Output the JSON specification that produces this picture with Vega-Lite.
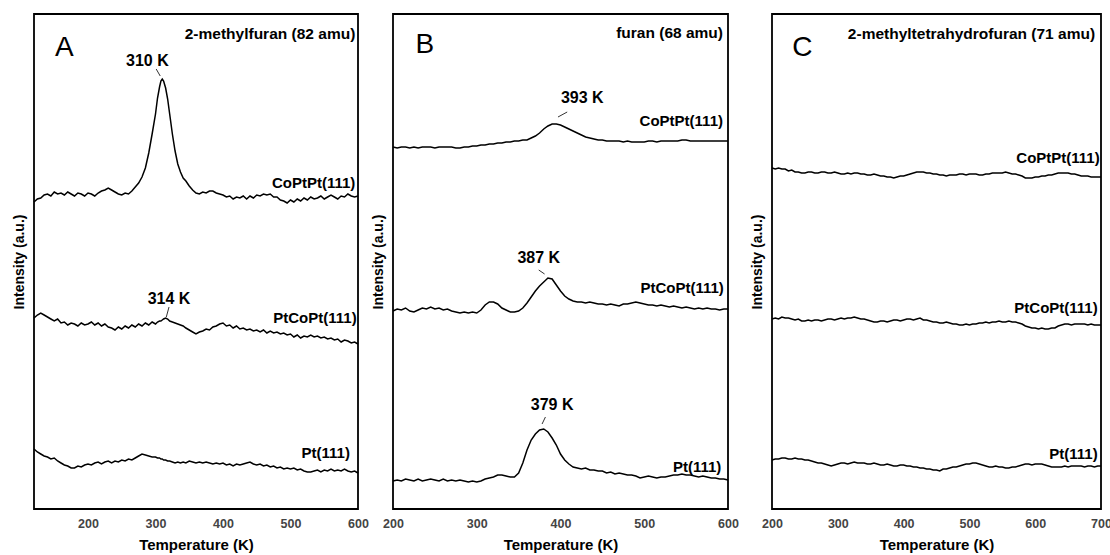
{
"$schema": "https://vega.github.io/schema/vega-lite/v6.json",
"background": "white",
"padding": {"left": 11, "top": 13, "right": 5, "bottom": 0},
"config": {
 "font": "Liberation Sans",
 "view": {"stroke": "black", "strokeWidth": 1.8},
 "axis": {"grid": false, "ticks": false, "domain": false, "labelFontWeight": "bold", "labelFontSize": 12.5, "labelColor": "#444", "titleFontWeight": "bold", "titleFontSize": 15, "titleColor": "black", "labelFont": "Liberation Sans", "titleFont": "Liberation Sans"},
 "axisY": {"labels": false, "titlePadding": 8, "titleFontSize": 14},
 "axisX": {"labelPadding": 8, "titlePadding": 8, "labelFlush": false}
},
"datasets": {
 "A": [
{"T":120,"a":307,"b":191,"c":60},{"T":125,"a":310,"b":194,"c":57},{"T":130,"a":311,"b":196,"c":55},{"T":135,"a":314,"b":194,"c":53},{"T":140,"a":315,"b":192,"c":52},{"T":145,"a":313,"b":190,"c":50},{"T":150,"a":317,"b":188,"c":51},{"T":155,"a":315,"b":190,"c":48},{"T":160,"a":316,"b":186,"c":46},{"T":165,"a":314,"b":187,"c":44},{"T":170,"a":317,"b":184,"c":43},{"T":175,"a":315,"b":186,"c":41},{"T":180,"a":313,"b":185,"c":41},{"T":185,"a":316,"b":183,"c":43},{"T":190,"a":315,"b":186,"c":42},{"T":195,"a":313,"b":184,"c":44},{"T":200,"a":316,"b":185,"c":45},{"T":205,"a":315,"b":187,"c":44},{"T":210,"a":313,"b":184,"c":46},{"T":215,"a":316,"b":186,"c":47},{"T":220,"a":318,"b":183,"c":45},{"T":225,"a":319,"b":185,"c":47},{"T":230,"a":321,"b":182,"c":48},{"T":235,"a":319,"b":181,"c":46},{"T":240,"a":317,"b":179,"c":48},{"T":245,"a":315,"b":182,"c":47},{"T":250,"a":314,"b":180,"c":49},{"T":255,"a":316,"b":183,"c":48},{"T":260,"a":315,"b":181,"c":50},{"T":265,"a":318,"b":184,"c":49},{"T":270,"a":322,"b":182,"c":51},{"T":275,"a":326,"b":185,"c":53},{"T":280,"a":332,"b":183,"c":55},{"T":285,"a":341,"b":186,"c":54},{"T":290,"a":356,"b":184,"c":53},{"T":295,"a":375,"b":187,"c":52},{"T":300,"a":395,"b":185,"c":52},{"T":303,"a":411,"b":187,"c":51},{"T":306,"a":422,"b":188,"c":51},{"T":308,"a":428,"b":188,"c":50},{"T":310,"a":430,"b":189,"c":50},{"T":312,"a":428,"b":190,"c":49},{"T":315,"a":421,"b":191,"c":49},{"T":318,"a":410,"b":190,"c":48},{"T":321,"a":395,"b":188,"c":48},{"T":325,"a":375,"b":187,"c":47},{"T":329,"a":358,"b":186,"c":46},{"T":333,"a":345,"b":185,"c":47},{"T":337,"a":337,"b":184,"c":46},{"T":341,"a":331,"b":183,"c":47},{"T":345,"a":328,"b":181,"c":46},{"T":350,"a":323,"b":179,"c":48},{"T":355,"a":319,"b":177,"c":47},{"T":360,"a":316,"b":175,"c":46},{"T":365,"a":315,"b":177,"c":47},{"T":370,"a":317,"b":178,"c":46},{"T":375,"a":316,"b":180,"c":47},{"T":380,"a":318,"b":179,"c":46},{"T":385,"a":318,"b":182,"c":45},{"T":390,"a":316,"b":183,"c":46},{"T":395,"a":315,"b":185,"c":45},{"T":400,"a":314,"b":186,"c":46},{"T":405,"a":312,"b":183,"c":44},{"T":410,"a":313,"b":184,"c":45},{"T":415,"a":310,"b":181,"c":43},{"T":420,"a":312,"b":183,"c":45},{"T":425,"a":311,"b":180,"c":44},{"T":430,"a":313,"b":181,"c":45},{"T":435,"a":310,"b":179,"c":46},{"T":440,"a":313,"b":180,"c":47},{"T":445,"a":311,"b":178,"c":45},{"T":450,"a":314,"b":179,"c":44},{"T":455,"a":313,"b":177,"c":45},{"T":460,"a":315,"b":179,"c":43},{"T":465,"a":314,"b":176,"c":44},{"T":470,"a":315,"b":178,"c":42},{"T":475,"a":312,"b":176,"c":43},{"T":480,"a":312,"b":177,"c":41},{"T":485,"a":309,"b":175,"c":42},{"T":490,"a":308,"b":176,"c":40},{"T":495,"a":306,"b":174,"c":41},{"T":500,"a":309,"b":175,"c":40},{"T":505,"a":307,"b":172,"c":41},{"T":510,"a":310,"b":174,"c":39},{"T":515,"a":308,"b":171,"c":40},{"T":520,"a":311,"b":173,"c":38},{"T":525,"a":309,"b":172,"c":37},{"T":530,"a":312,"b":174,"c":37},{"T":535,"a":310,"b":172,"c":38},{"T":540,"a":311,"b":173,"c":39},{"T":545,"a":313,"b":171,"c":37},{"T":550,"a":310,"b":172,"c":39},{"T":555,"a":312,"b":170,"c":38},{"T":560,"a":314,"b":171,"c":40},{"T":565,"a":312,"b":169,"c":38},{"T":570,"a":310,"b":170,"c":39},{"T":575,"a":313,"b":167,"c":38},{"T":580,"a":312,"b":169,"c":40},{"T":585,"a":315,"b":168,"c":38},{"T":590,"a":313,"b":166,"c":37},{"T":595,"a":312,"b":167,"c":38},{"T":600,"a":313,"b":165,"c":36}
 ],
 "B": [
{"T":200,"a":362,"b":198,"c":28},{"T":205,"a":361,"b":200,"c":29},{"T":210,"a":362,"b":199,"c":28},{"T":215,"a":362,"b":201,"c":30},{"T":220,"a":361,"b":198,"c":29},{"T":225,"a":362,"b":197,"c":28},{"T":230,"a":361,"b":199,"c":30},{"T":235,"a":362,"b":201,"c":28},{"T":240,"a":362,"b":200,"c":29},{"T":245,"a":362,"b":202,"c":30},{"T":250,"a":361,"b":200,"c":29},{"T":255,"a":362,"b":201,"c":28},{"T":260,"a":362,"b":199,"c":30},{"T":265,"a":362,"b":200,"c":28},{"T":270,"a":362,"b":198,"c":29},{"T":275,"a":361,"b":197,"c":28},{"T":280,"a":361,"b":196,"c":29},{"T":285,"a":362,"b":197,"c":28},{"T":290,"a":362,"b":196,"c":27},{"T":295,"a":363,"b":197,"c":28},{"T":300,"a":363,"b":196,"c":27},{"T":305,"a":364,"b":199,"c":28},{"T":310,"a":364,"b":204,"c":30},{"T":315,"a":365,"b":207,"c":31},{"T":320,"a":365,"b":207,"c":32},{"T":325,"a":366,"b":205,"c":34},{"T":330,"a":366,"b":201,"c":34},{"T":335,"a":367,"b":199,"c":33},{"T":340,"a":367,"b":197,"c":32},{"T":345,"a":368,"b":197,"c":32},{"T":350,"a":368,"b":198,"c":36},{"T":355,"a":369,"b":201,"c":46},{"T":360,"a":369,"b":206,"c":59},{"T":365,"a":371,"b":212,"c":69},{"T":370,"a":373,"b":218,"c":75},{"T":375,"a":376,"b":223,"c":79},{"T":380,"a":380,"b":227,"c":80},{"T":385,"a":383,"b":231,"c":77},{"T":390,"a":385,"b":230,"c":71},{"T":395,"a":385,"b":224,"c":64},{"T":400,"a":384,"b":218,"c":55},{"T":405,"a":382,"b":213,"c":49},{"T":410,"a":380,"b":210,"c":45},{"T":415,"a":378,"b":208,"c":42},{"T":420,"a":376,"b":207,"c":41},{"T":425,"a":374,"b":207,"c":40},{"T":430,"a":372,"b":206,"c":41},{"T":435,"a":371,"b":207,"c":39},{"T":440,"a":370,"b":206,"c":39},{"T":445,"a":369,"b":205,"c":38},{"T":450,"a":369,"b":205,"c":38},{"T":455,"a":368,"b":204,"c":36},{"T":460,"a":368,"b":205,"c":37},{"T":465,"a":368,"b":204,"c":35},{"T":470,"a":368,"b":203,"c":36},{"T":475,"a":367,"b":205,"c":35},{"T":480,"a":368,"b":205,"c":34},{"T":485,"a":367,"b":206,"c":34},{"T":490,"a":367,"b":207,"c":33},{"T":495,"a":367,"b":206,"c":31},{"T":500,"a":367,"b":205,"c":32},{"T":505,"a":368,"b":204,"c":33},{"T":510,"a":368,"b":204,"c":32},{"T":515,"a":367,"b":203,"c":31},{"T":520,"a":368,"b":204,"c":32},{"T":525,"a":368,"b":203,"c":32},{"T":530,"a":368,"b":202,"c":33},{"T":535,"a":368,"b":203,"c":34},{"T":540,"a":368,"b":202,"c":34},{"T":545,"a":369,"b":201,"c":35},{"T":550,"a":369,"b":202,"c":34},{"T":555,"a":368,"b":201,"c":34},{"T":560,"a":368,"b":200,"c":33},{"T":565,"a":368,"b":201,"c":32},{"T":570,"a":368,"b":200,"c":33},{"T":575,"a":368,"b":201,"c":32},{"T":580,"a":368,"b":200,"c":31},{"T":585,"a":368,"b":200,"c":31},{"T":590,"a":368,"b":199,"c":30},{"T":595,"a":368,"b":200,"c":30},{"T":600,"a":368,"b":200,"c":29}
 ],
 "C": [
{"T":200,"a":341,"b":190,"c":49},{"T":205,"a":340,"b":191,"c":50},{"T":210,"a":341,"b":190,"c":50},{"T":215,"a":340,"b":192,"c":51},{"T":220,"a":340,"b":191,"c":51},{"T":225,"a":338,"b":191,"c":50},{"T":230,"a":339,"b":190,"c":50},{"T":235,"a":337,"b":189,"c":51},{"T":240,"a":337,"b":190,"c":50},{"T":245,"a":336,"b":188,"c":50},{"T":250,"a":336,"b":188,"c":49},{"T":255,"a":337,"b":189,"c":49},{"T":260,"a":337,"b":188,"c":48},{"T":265,"a":336,"b":189,"c":47},{"T":270,"a":336,"b":189,"c":46},{"T":275,"a":337,"b":188,"c":46},{"T":280,"a":337,"b":189,"c":45},{"T":285,"a":336,"b":190,"c":44},{"T":290,"a":336,"b":190,"c":43},{"T":295,"a":337,"b":189,"c":44},{"T":300,"a":336,"b":190,"c":45},{"T":305,"a":335,"b":191,"c":46},{"T":310,"a":335,"b":190,"c":46},{"T":315,"a":336,"b":191,"c":45},{"T":320,"a":335,"b":191,"c":46},{"T":325,"a":336,"b":192,"c":47},{"T":330,"a":336,"b":191,"c":46},{"T":335,"a":335,"b":190,"c":46},{"T":340,"a":335,"b":190,"c":46},{"T":345,"a":334,"b":189,"c":45},{"T":350,"a":334,"b":188,"c":45},{"T":355,"a":335,"b":187,"c":46},{"T":360,"a":334,"b":187,"c":45},{"T":365,"a":333,"b":188,"c":44},{"T":370,"a":333,"b":188,"c":44},{"T":375,"a":332,"b":187,"c":45},{"T":380,"a":332,"b":188,"c":44},{"T":385,"a":331,"b":189,"c":43},{"T":390,"a":332,"b":189,"c":43},{"T":395,"a":333,"b":188,"c":44},{"T":400,"a":333,"b":189,"c":44},{"T":405,"a":334,"b":190,"c":43},{"T":410,"a":335,"b":190,"c":43},{"T":415,"a":336,"b":189,"c":42},{"T":420,"a":337,"b":190,"c":42},{"T":425,"a":337,"b":191,"c":41},{"T":430,"a":337,"b":189,"c":41},{"T":435,"a":336,"b":189,"c":40},{"T":440,"a":336,"b":188,"c":40},{"T":445,"a":335,"b":187,"c":39},{"T":450,"a":335,"b":187,"c":39},{"T":455,"a":334,"b":186,"c":38},{"T":460,"a":334,"b":186,"c":40},{"T":465,"a":333,"b":187,"c":40},{"T":470,"a":334,"b":186,"c":41},{"T":475,"a":334,"b":185,"c":42},{"T":480,"a":334,"b":185,"c":42},{"T":485,"a":335,"b":184,"c":43},{"T":490,"a":335,"b":184,"c":44},{"T":495,"a":334,"b":185,"c":45},{"T":500,"a":335,"b":184,"c":45},{"T":505,"a":335,"b":185,"c":46},{"T":510,"a":335,"b":185,"c":46},{"T":515,"a":334,"b":186,"c":45},{"T":520,"a":334,"b":186,"c":44},{"T":525,"a":335,"b":187,"c":43},{"T":530,"a":335,"b":186,"c":42},{"T":535,"a":336,"b":187,"c":42},{"T":540,"a":336,"b":187,"c":43},{"T":545,"a":336,"b":188,"c":42},{"T":550,"a":336,"b":187,"c":42},{"T":555,"a":337,"b":187,"c":41},{"T":560,"a":336,"b":188,"c":41},{"T":565,"a":335,"b":187,"c":42},{"T":570,"a":335,"b":187,"c":42},{"T":575,"a":334,"b":186,"c":43},{"T":580,"a":333,"b":185,"c":44},{"T":585,"a":331,"b":183,"c":45},{"T":590,"a":331,"b":182,"c":45},{"T":595,"a":331,"b":181,"c":44},{"T":600,"a":332,"b":181,"c":45},{"T":605,"a":332,"b":180,"c":45},{"T":610,"a":333,"b":181,"c":45},{"T":615,"a":333,"b":180,"c":44},{"T":620,"a":334,"b":180,"c":43},{"T":625,"a":334,"b":181,"c":42},{"T":630,"a":335,"b":181,"c":42},{"T":635,"a":336,"b":183,"c":42},{"T":640,"a":336,"b":184,"c":42},{"T":645,"a":336,"b":185,"c":43},{"T":650,"a":336,"b":185,"c":42},{"T":655,"a":335,"b":184,"c":43},{"T":660,"a":335,"b":185,"c":43},{"T":665,"a":334,"b":185,"c":43},{"T":670,"a":333,"b":185,"c":43},{"T":675,"a":333,"b":185,"c":42},{"T":680,"a":333,"b":184,"c":43},{"T":685,"a":332,"b":185,"c":43},{"T":690,"a":332,"b":184,"c":42},{"T":695,"a":332,"b":184,"c":43},{"T":700,"a":332,"b":184,"c":43}
 ],
 "LA": [
  {"k":"series","T":596,"v":326,"t":"CoPtPt(111)"},
  {"k":"series","T":598,"v":191,"t":"PtCoPt(111)"},
  {"k":"series","T":588,"v":56,"t":"Pt(111)"},
  {"k":"title","T":596,"v":475,"t":"2-methylfuran (82 amu)"},
  {"k":"peak","T":288,"v":448,"t":"310 K"},
  {"k":"peak","T":320,"v":210,"t":"314 K"},
  {"k":"letter","T":165,"v":461,"t":"A"}
 ],
 "LB": [
  {"k":"series","T":594,"v":388,"t":"CoPtPt(111)"},
  {"k":"series","T":595,"v":221,"t":"PtCoPt(111)"},
  {"k":"series","T":592,"v":42,"t":"Pt(111)"},
  {"k":"title","T":594,"v":476,"t":"furan (68 amu)"},
  {"k":"peak","T":426,"v":411,"t":"393 K"},
  {"k":"peak","T":374,"v":251,"t":"387 K"},
  {"k":"peak","T":390,"v":104,"t":"379 K"},
  {"k":"letter","T":238,"v":464,"t":"B"}
 ],
 "LC": [
  {"k":"series","T":698,"v":351,"t":"CoPtPt(111)"},
  {"k":"series","T":695,"v":201,"t":"PtCoPt(111)"},
  {"k":"series","T":695,"v":55,"t":"Pt(111)"},
  {"k":"title","T":691,"v":475,"t":"2-methyltetrahydrofuran (71 amu)"},
  {"k":"letter","T":246,"v":461,"t":"C"}
 ],
 "RA": [
  {"T":301,"v":440,"T2":307,"v2":433},
  {"T":320,"v":202,"T2":316,"v2":192}
 ],
 "RB": [
  {"T":408,"v":397,"T2":397,"v2":392},
  {"T":374,"v":239,"T2":381,"v2":235},
  {"T":382,"v":92,"T2":378,"v2":85}
 ]
},
"bounds": "flush",
"spacing": 35,
"hconcat": [
 {
  "width": 324, "height": 495,
  "layer": [
   {"data": {"name": "A"}, "transform": [{"fold": ["a", "b", "c"], "as": ["s", "v"]}], "mark": {"type": "line", "color": "black", "strokeWidth": 1.5},
    "encoding": {
     "x": {"field": "T", "type": "quantitative", "scale": {"domain": [120, 600], "nice": false, "zero": false}, "axis": {"values": [200, 300, 400, 500, 600]}, "title": "Temperature (K)"},
     "y": {"field": "v", "type": "quantitative", "scale": {"domain": [0, 495], "nice": false}, "title": "Intensity (a.u.)"},
     "detail": {"field": "s"}}},
   {"data": {"name": "RA"}, "mark": {"type": "rule", "color": "#333", "strokeWidth": 1},
    "encoding": {"x": {"field": "T", "type": "quantitative"}, "y": {"field": "v", "type": "quantitative"}, "x2": {"field": "T2"}, "y2": {"field": "v2"}}},
   {"data": {"name": "LA"}, "transform": [{"filter": "datum.k == 'series'"}], "mark": {"type": "text", "align": "right", "baseline": "middle", "fontSize": 15, "fontWeight": "bold", "color": "black"},
    "encoding": {"x": {"field": "T", "type": "quantitative"}, "y": {"field": "v", "type": "quantitative"}, "text": {"field": "t"}}},
   {"data": {"name": "LA"}, "transform": [{"filter": "datum.k == 'title'"}], "mark": {"type": "text", "align": "right", "baseline": "middle", "fontSize": 15.5, "fontWeight": "bold", "color": "black"},
    "encoding": {"x": {"field": "T", "type": "quantitative"}, "y": {"field": "v", "type": "quantitative"}, "text": {"field": "t"}}},
   {"data": {"name": "LA"}, "transform": [{"filter": "datum.k == 'peak'"}], "mark": {"type": "text", "align": "center", "baseline": "middle", "fontSize": 16, "fontWeight": "bold", "color": "black"},
    "encoding": {"x": {"field": "T", "type": "quantitative"}, "y": {"field": "v", "type": "quantitative"}, "text": {"field": "t"}}},
   {"data": {"name": "LA"}, "transform": [{"filter": "datum.k == 'letter'"}], "mark": {"type": "text", "align": "center", "baseline": "middle", "fontSize": 28, "color": "black"},
    "encoding": {"x": {"field": "T", "type": "quantitative"}, "y": {"field": "v", "type": "quantitative"}, "text": {"field": "t"}}}
  ]
 },
 {
  "bounds": "flush",
  "spacing": 44,
  "hconcat": [
   {
    "width": 335, "height": 495,
    "layer": [
     {"data": {"name": "B"}, "transform": [{"fold": ["a", "b", "c"], "as": ["s", "v"]}], "mark": {"type": "line", "color": "black", "strokeWidth": 1.5},
      "encoding": {
       "x": {"field": "T", "type": "quantitative", "scale": {"domain": [200, 600], "nice": false, "zero": false}, "axis": {"values": [200, 300, 400, 500, 600]}, "title": "Temperature (K)"},
       "y": {"field": "v", "type": "quantitative", "scale": {"domain": [0, 495], "nice": false}, "title": "Intensity (a.u.)"},
       "detail": {"field": "s"}}},
     {"data": {"name": "RB"}, "mark": {"type": "rule", "color": "#333", "strokeWidth": 1},
      "encoding": {"x": {"field": "T", "type": "quantitative"}, "y": {"field": "v", "type": "quantitative"}, "x2": {"field": "T2"}, "y2": {"field": "v2"}}},
     {"data": {"name": "LB"}, "transform": [{"filter": "datum.k == 'series'"}], "mark": {"type": "text", "align": "right", "baseline": "middle", "fontSize": 15, "fontWeight": "bold", "color": "black"},
      "encoding": {"x": {"field": "T", "type": "quantitative"}, "y": {"field": "v", "type": "quantitative"}, "text": {"field": "t"}}},
     {"data": {"name": "LB"}, "transform": [{"filter": "datum.k == 'title'"}], "mark": {"type": "text", "align": "right", "baseline": "middle", "fontSize": 15.5, "fontWeight": "bold", "color": "black"},
      "encoding": {"x": {"field": "T", "type": "quantitative"}, "y": {"field": "v", "type": "quantitative"}, "text": {"field": "t"}}},
     {"data": {"name": "LB"}, "transform": [{"filter": "datum.k == 'peak'"}], "mark": {"type": "text", "align": "center", "baseline": "middle", "fontSize": 16, "fontWeight": "bold", "color": "black"},
      "encoding": {"x": {"field": "T", "type": "quantitative"}, "y": {"field": "v", "type": "quantitative"}, "text": {"field": "t"}}},
     {"data": {"name": "LB"}, "transform": [{"filter": "datum.k == 'letter'"}], "mark": {"type": "text", "align": "center", "baseline": "middle", "fontSize": 28, "color": "black"},
      "encoding": {"x": {"field": "T", "type": "quantitative"}, "y": {"field": "v", "type": "quantitative"}, "text": {"field": "t"}}}
    ]
   },
   {
    "width": 329, "height": 495,
    "layer": [
     {"data": {"name": "C"}, "transform": [{"fold": ["a", "b", "c"], "as": ["s", "v"]}], "mark": {"type": "line", "color": "black", "strokeWidth": 1.5},
      "encoding": {
       "x": {"field": "T", "type": "quantitative", "scale": {"domain": [200, 700], "nice": false, "zero": false}, "axis": {"values": [200, 300, 400, 500, 600, 700]}, "title": "Temperature (K)"},
       "y": {"field": "v", "type": "quantitative", "scale": {"domain": [0, 495], "nice": false}, "title": "Intensity (a.u.)"},
       "detail": {"field": "s"}}},
     {"data": {"name": "LC"}, "transform": [{"filter": "datum.k == 'series'"}], "mark": {"type": "text", "align": "right", "baseline": "middle", "fontSize": 15, "fontWeight": "bold", "color": "black"},
      "encoding": {"x": {"field": "T", "type": "quantitative"}, "y": {"field": "v", "type": "quantitative"}, "text": {"field": "t"}}},
     {"data": {"name": "LC"}, "transform": [{"filter": "datum.k == 'title'"}], "mark": {"type": "text", "align": "right", "baseline": "middle", "fontSize": 15.5, "fontWeight": "bold", "color": "black"},
      "encoding": {"x": {"field": "T", "type": "quantitative"}, "y": {"field": "v", "type": "quantitative"}, "text": {"field": "t"}}},
     {"data": {"name": "LC"}, "transform": [{"filter": "datum.k == 'letter'"}], "mark": {"type": "text", "align": "center", "baseline": "middle", "fontSize": 28, "color": "black"},
      "encoding": {"x": {"field": "T", "type": "quantitative"}, "y": {"field": "v", "type": "quantitative"}, "text": {"field": "t"}}}
    ]
   }
  ]
 }
]
}
